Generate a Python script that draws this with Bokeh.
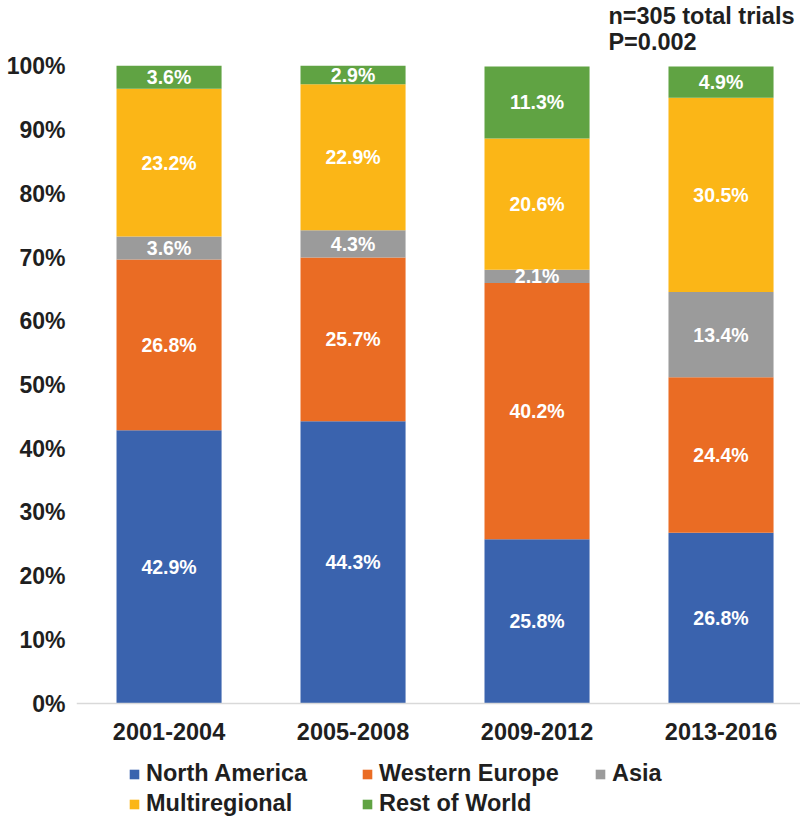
from bokeh.plotting import figure
from bokeh.models import (ColumnDataSource, Range1d, FixedTicker, PrintfTickFormatter,
                          Legend, LegendItem, Span)
from bokeh.core.properties import value
from bokeh.embed import file_html
from bokeh.resources import INLINE

# ---- data ----
categories = ["2001-2004", "2005-2008", "2009-2012", "2013-2016"]
series_names = ["North America", "Western Europe", "Asia", "Multiregional", "Rest of World"]
north_america = [42.9, 44.3, 25.8, 26.8]
western_europe = [26.8, 25.7, 40.2, 24.4]
asia = [3.6, 4.3, 2.1, 13.4]
multiregional = [23.2, 22.9, 20.6, 30.5]
rest_of_world = [3.6, 2.9, 11.3, 4.9]
y_ticks = [0, 10, 20, 30, 40, 50, 60, 70, 80, 90, 100]
annotation_lines = ["n=305 total trials", "P=0.002"]

series = [north_america, western_europe, asia, multiregional, rest_of_world]
colors = ["#3A63AE", "#EA6C24", "#9B9B9B", "#FBB617", "#60A343"]

FONT = "Liberation Sans"
TXT = "#1f1f1f"

x_pos = list(range(len(categories)))

p = figure(width=800, height=818, output_backend="svg", toolbar_location=None,
           x_range=Range1d(-0.503, 3.432), y_range=Range1d(-18.05, 110.36),
           min_border_left=76, min_border_right=0, min_border_top=0,
           min_border_bottom=0)
p.outline_line_color = None
p.xgrid.visible = False
p.ygrid.visible = False
p.xaxis.visible = False
p.background_fill_color = "white"

items = []
bottoms = [0.0] * len(categories)
lx, ly, lt = [], [], []
for name, vals, col in zip(series_names, series, colors):
    tops = [b + v for b, v in zip(bottoms, vals)]
    src = ColumnDataSource(dict(x=x_pos, bottom=bottoms, top=tops))
    r = p.vbar(x="x", bottom="bottom", top="top", width=0.571, source=src,
               fill_color=col, line_color=None)
    items.append(LegendItem(label=name, renderers=[r]))
    for i, (b, v) in enumerate(zip(bottoms, vals)):
        lx.append(x_pos[i])
        ly.append(b + v / 2)
        lt.append(f"{v:.1f}%")
    bottoms = tops

lsrc = ColumnDataSource(dict(x=lx, y=ly, t=lt))
p.text(x="x", y="y", text="t", source=lsrc, text_color="white",
       text_font=value(FONT), text_font_style="bold", text_font_size="19.5px",
       text_align="center", text_baseline="middle")

# category axis: baseline and labels
p.add_layout(Span(location=0, dimension="width", line_color="#D9D9D9", line_width=1.5))
csrc = ColumnDataSource(dict(x=x_pos, y=[-4.4] * len(categories), t=categories))
p.text(x="x", y="y", text="t", source=csrc, text_color=TXT,
       text_font=value(FONT), text_font_style="bold", text_font_size="23.5px",
       text_align="center", text_baseline="middle")

# value axis
ya = p.yaxis[0]
ya.ticker = FixedTicker(ticks=y_ticks)
ya.formatter = PrintfTickFormatter(format="%d%%")
ya.major_label_text_font = FONT
ya.major_label_text_font_style = "bold"
ya.major_label_text_font_size = "23px"
ya.major_label_text_color = TXT
ya.major_tick_line_color = None
ya.major_tick_out = 0
ya.major_tick_in = 0
ya.minor_tick_line_color = None
ya.minor_tick_out = 0
ya.axis_line_color = None
ya.major_label_standoff = 11

# legend
legend = Legend(items=items, location=(52, 1), orientation="horizontal", ncols=3,
                label_text_font=FONT, label_text_font_style="bold",
                label_text_font_size="23.5px", label_text_color=TXT,
                glyph_width=12, glyph_height=12, label_standoff=6,
                label_width=212, spacing=3, padding=0, margin=0,
                border_line_color=None, background_fill_alpha=0)
p.add_layout(legend, "center")

# annotation
asrc = ColumnDataSource(dict(x=[2.388] * len(annotation_lines), y=[108.0, 103.9],
                             t=annotation_lines))
p.text(x="x", y="y", text="t", source=asrc, text_color=TXT,
       text_font=value(FONT), text_font_style="bold", text_font_size="23.5px",
       text_align="left", text_baseline="alphabetic")

open("out.html", "w").write(file_html(p, INLINE))
